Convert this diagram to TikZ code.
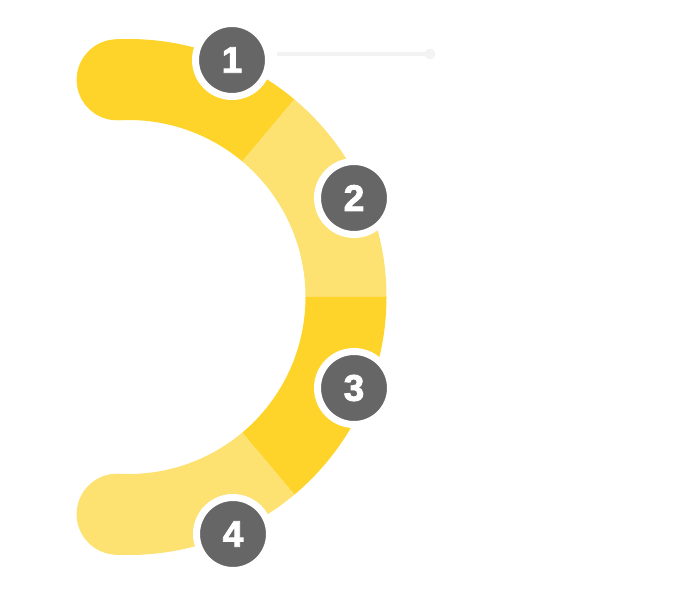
\documentclass[tikz,border=0pt]{standalone}
\usepackage{fontspec}
\setmainfont{Liberation Sans}
\newfontfamily\heavydigits{Liberation Sans Bold}[FakeBold=2.4]
\definecolor{ydark}{HTML}{FFD42A}
\definecolor{ylight}{HTML}{FDE171}
\definecolor{badgegray}{HTML}{666666}
\definecolor{linegray}{HTML}{F3F3F3}
\begin{document}
\begin{tikzpicture}[x=1pt,y=1pt,
  badge/.style={circle,fill=badgegray,draw=white,line width=7pt,minimum size=73pt,inner sep=0pt,
    text=white,font=\heavydigits\fontsize{37}{37}\selectfont}]
\useasboundingbox (0,0) rectangle (700,600);
\def\Ro{258}\def\Ri{177}\def\Rm{217.5}
\begin{scope}[shift={(128.5,303)}]
  % segment 1 (dark)
  \fill[ydark] (93:\Ro) arc[start angle=93,end angle=50,radius=\Ro] -- (50:\Ri) arc[start angle=50,end angle=93,radius=\Ri] -- cycle;
  \fill[ydark] (93:\Rm) circle[radius=40.5];
  % segment 2 (light)
  \fill[ylight] (50:\Ro) arc[start angle=50,end angle=0,radius=\Ro] -- (0:\Ri) arc[start angle=0,end angle=50,radius=\Ri] -- cycle;
  % segment 3 (dark)
  \fill[ydark] (0:\Ro) arc[start angle=0,end angle=-50,radius=\Ro] -- (-50:\Ri) arc[start angle=-50,end angle=0,radius=\Ri] -- cycle;
  % segment 4 (light)
  \fill[ylight] (-50:\Ro) arc[start angle=-50,end angle=-93,radius=\Ro] -- (-93:\Ri) arc[start angle=-93,end angle=-50,radius=\Ri] -- cycle;
  \fill[ylight] (-93:\Rm) circle[radius=40.5];
\end{scope}
\node[badge] (b1) at (232,540) {1};
\node[badge] (b2) at (354,402) {2};
\node[badge] (b3) at (354,212) {3};
\node[badge] (b4) at (233,66) {4};
\coordinate (e1) at (430,546);
\draw[linegray,line width=4pt,shorten <=5pt] (b1.east |- e1) -- (e1);
\fill[linegray] (e1) circle[radius=5.5];
\end{tikzpicture}
\end{document}
